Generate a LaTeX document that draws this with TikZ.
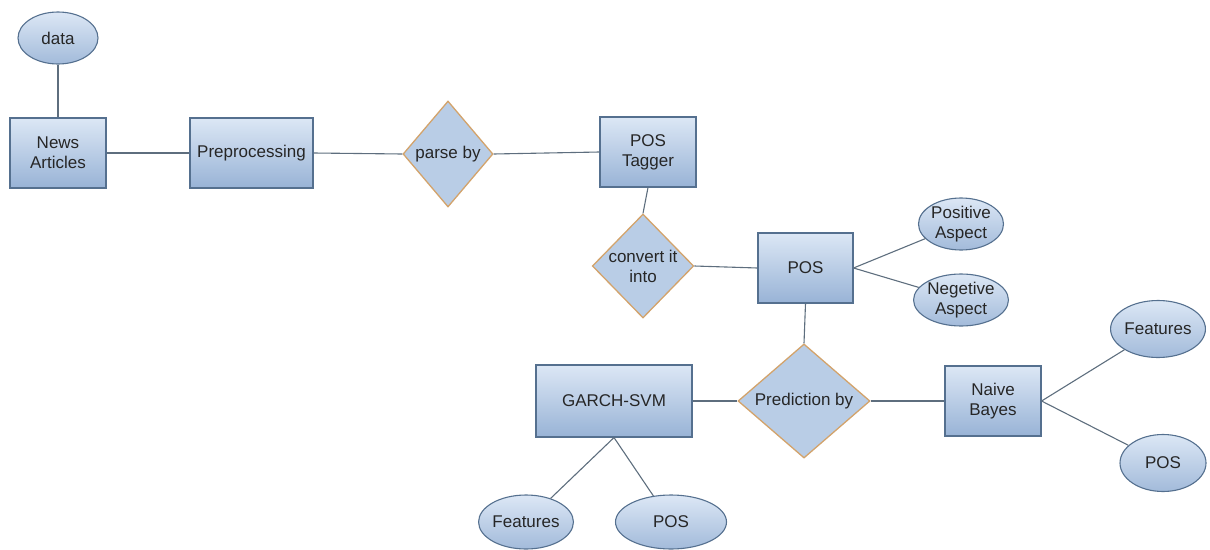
\documentclass[tikz,border=0pt]{standalone}
\usepackage{fontspec}
\setmainfont{Liberation Sans}
\usetikzlibrary{shapes.geometric}
\definecolor{boxtop}{HTML}{DCE7F5}
\definecolor{boxbot}{HTML}{98B3D6}
\definecolor{boxline}{HTML}{55708F}
\definecolor{dfill}{HTML}{B9CDE6}
\definecolor{dline}{HTML}{D3A36B}
\definecolor{conn}{HTML}{5E6E7E}
\begin{document}
\begin{tikzpicture}[x=1pt,y=-1pt,
  every node/.style={font=\fontsize{17}{20}\selectfont, text=black!85, align=center, inner sep=0pt},
  entity/.style={rectangle, draw=boxline, line width=1.1pt, top color=boxtop, bottom color=boxbot},
  attr/.style={ellipse, draw=boxline, line width=1.1pt, top color=boxtop, bottom color=boxbot!90},
  rel/.style={diamond, draw=dline, line width=1.3pt, fill=dfill},
  link/.style={draw=conn, line width=1.1pt}]
\useasboundingbox (0,0) rectangle (1210,549);

% entities
\node[entity, minimum width=96, minimum height=70] (news) at (58,153) {News\\Articles};
\node[entity, minimum width=123, minimum height=70] (pre) at (251.5,153) {Preprocessing};
\node[entity, minimum width=96, minimum height=70] (tagger) at (648,152) {POS\\Tagger};
\node[entity, minimum width=95, minimum height=70] (pos) at (805.5,268) {POS};
\node[entity, minimum width=156, minimum height=72] (garch) at (614,401) {GARCH-SVM};
\node[entity, minimum width=96, minimum height=70] (bayes) at (993,401) {Naive\\Bayes};

% relationships
\node[rel, minimum width=90, minimum height=106] (parse) at (448,154) {parse by};
\node[rel, minimum width=90, minimum height=104] (convert) at (643,266) {convert it\\into};
\node[rel, minimum width=132, minimum height=107] (pred) at (804,401) {Prediction by};

% attributes
\node[attr, minimum width=80, minimum height=52] (data) at (58,38) {data};
\node[attr, minimum width=85, minimum height=52] (posasp) at (961,224) {Positive\\Aspect};
\node[attr, minimum width=85, minimum height=52] (negasp) at (961,300) {Negetive\\Aspect};
\node[attr, minimum width=86, minimum height=57] (featr) at (1158,329) {Features};
\node[attr, minimum width=86, minimum height=57] (posr) at (1163,463) {POS};
\node[attr, minimum width=88, minimum height=54] (featb) at (526,522) {Features};
\node[attr, minimum width=111, minimum height=54] (posb) at (671,522) {POS};

% connectors
\draw[link] (data) -- (news);
\draw[link] (news) -- (pre);
\draw[link] (pre.east) -- (parse.west);
\draw[link] (parse.east) -- (tagger.west);
\draw[link] (tagger.south) -- (convert.north);
\draw[link] (convert.east) -- (pos.west);
\draw[link] (pos.east) -- (posasp);
\draw[link] (pos.east) -- (negasp);
\draw[link] (pos.south) -- (pred.north);
\draw[link] (garch.east) -- (pred.west);
\draw[link] (pred.east) -- (bayes.west);
\draw[link] (bayes.east) -- (featr);
\draw[link] (bayes.east) -- (posr);
\draw[link] (garch.south) -- (featb);
\draw[link] (garch.south) -- (posb);
\end{tikzpicture}
\end{document}
